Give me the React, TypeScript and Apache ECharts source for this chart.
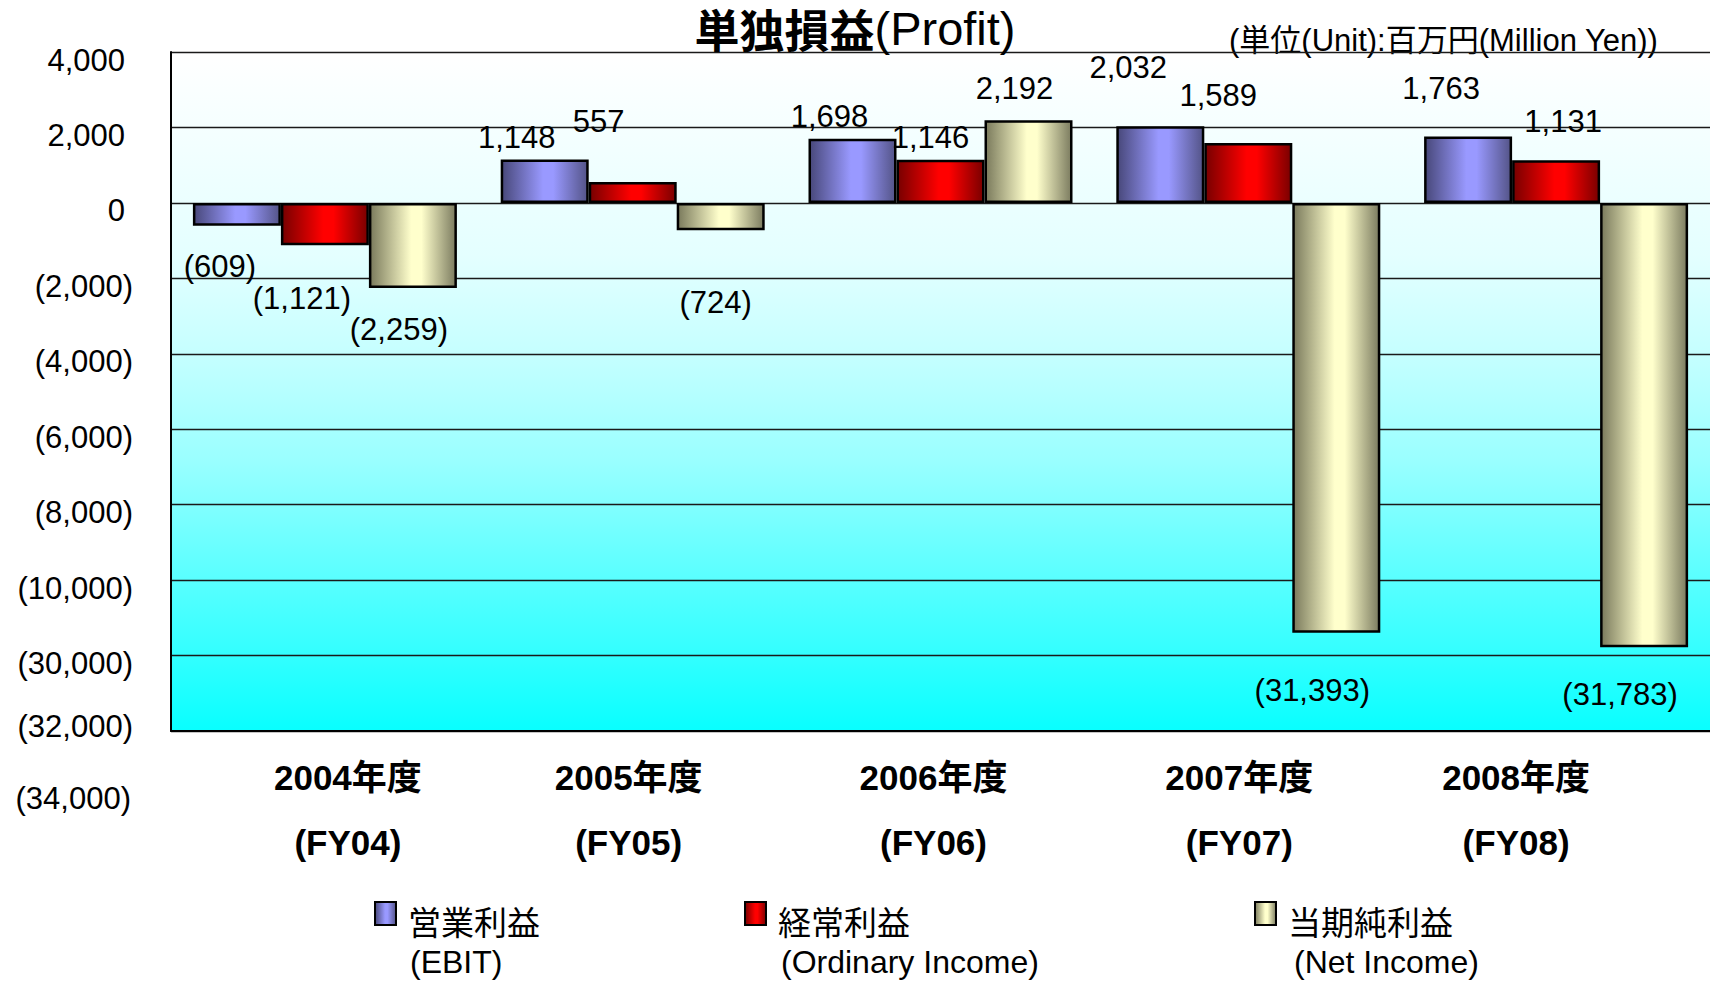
import React, { useEffect, useRef } from 'react';
import * as echarts from 'echarts';

// ---------- data ----------
const CATEGORIES = ['2004年度', '2005年度', '2006年度', '2007年度', '2008年度'];
const FY_LABELS = ['(FY04)', '(FY05)', '(FY06)', '(FY07)', '(FY08)'];
const SERIES_NAMES = ['営業利益', '経常利益', '当期純利益'];
const SERIES_SUBNAMES = ['(EBIT)', '(Ordinary Income)', '(Net Income)'];
const EBIT = [-609, 1148, 1698, 2032, 1763];
const ORDINARY = [-1121, 557, 1146, 1589, 1131];
const NET_INCOME = [-2259, -724, 2192, -31393, -31783];

// broken axis: values below BREAK_AT are drawn shifted up by BREAK_SHIFT
const BREAK_AT = -10000;
const BREAK_SHIFT = 20000;
const Y_TICK_POSITIONS = [4000, 2000, 0, -2000, -4000, -6000, -8000, -10000, -12000, -14000];
const Y_TICK_LABELS = ['4,000', '2,000', '0', '(2,000)', '(4,000)', '(6,000)', '(8,000)', '(10,000)', '(30,000)', '(32,000)'];
const Y_EXTRA_LABEL = '(34,000)';

// ---------- layout / style ----------
const LATIN = "'Liberation Sans', Arial, 'Noto Sans CJK JP', sans-serif";
const CJK = "'Noto Sans CJK JP', 'Liberation Sans', sans-serif";
const LABEL_OFFSETS = [
  [[-17, 41], [-28, -22], [-23, -22], [-32, -59], [-27, -48]],
  [[-23, 53], [-34, -60], [-10, -22], [-30, -47], [7, -39]],
  [[-14, 41], [-5, 72], [-14, -32], [-24, 58], [-24, 47]],
];
const X_LABEL_SHIFT = [23, -4, -7, -9, -40];
const LEGEND_X = [369, 739, 1249];
const LEGEND_SUB_X = [410, 781, 1294];
// square icon at the top of a taller box so that it lines up with the first text line
const LEGEND_ICON = 'path://M0,0H21V23H0Z M21,37';

const toDisplay = (v: number) => (v >= BREAK_AT ? v : v + BREAK_SHIFT);
const fmt = (v: number) =>
  v < 0 ? `(${Math.abs(v).toLocaleString('en-US')})` : v.toLocaleString('en-US');

const grad = (edgeL: string, mid: string, edgeR: string) =>
  new echarts.graphic.LinearGradient(0, 0, 1, 0, [
    { offset: 0, color: edgeL },
    { offset: 0.48, color: mid },
    { offset: 0.6, color: mid },
    { offset: 1, color: edgeR },
  ]);

export default function App() {
  const ref = useRef<HTMLDivElement>(null);
  useEffect(() => {
    if (!ref.current) return;
    const chart = echarts.init(ref.current, undefined, { renderer: 'svg' });
    const seriesValues = [EBIT, ORDINARY, NET_INCOME];
    const colors = [
      grad('#48487a', '#9999ff', '#545488'),
      grad('#780000', '#ff0000', '#7a0000'),
      grad('#7a7a5c', '#ffffcc', '#7c7c60'),
    ];
    const series = seriesValues.map((vals, s) => ({
      name: SERIES_NAMES[s],
      type: 'bar',
      barWidth: 88,
      barGap: '0%',
      itemStyle: { color: colors[s], borderColor: '#000', borderWidth: 2.5 },
      label: {
        show: true,
        distance: 0,
        align: 'center',
        verticalAlign: 'middle',
        fontSize: 31,
        color: '#000',
        fontFamily: LATIN,
        formatter: (p: any) => fmt(vals[p.dataIndex]),
      },
      data: vals.map((v, i) => ({
        value: toDisplay(v),
        label: { position: v >= 0 ? 'top' : 'bottom', offset: LABEL_OFFSETS[s][i] },
      })),
    }));

    const option: any = {
      animation: false,
      backgroundColor: '#ffffff',
      title: {
        text: '{a|単独損益}{b|(Profit)}',
        left: 'center',
        top: 5,
        padding: 0,
        textStyle: {
          rich: {
            a: { fontSize: 45, fontWeight: 'bold', fontFamily: CJK, color: '#000' },
            b: { fontSize: 47, fontWeight: 'normal', fontFamily: LATIN, color: '#000' },
          },
        },
      },
      grid: {
        left: 171,
        top: 52,
        height: 679,
        width: 1545,
        show: true,
        borderWidth: 0,
        backgroundColor: new echarts.graphic.LinearGradient(0, 0, 0, 1, [
          { offset: 0, color: '#ffffff' },
          { offset: 0.3, color: '#e4ffff' },
          { offset: 0.45, color: '#c4ffff' },
          { offset: 0.6, color: '#9affff' },
          { offset: 0.75, color: '#62ffff' },
          { offset: 0.9, color: '#2effff' },
          { offset: 1, color: '#08ffff' },
        ]),
      },
      xAxis: {
        type: 'category',
        data: CATEGORIES.map((c, i) => ({
          value: c,
          textStyle: {
            padding: X_LABEL_SHIFT[i] > 0 ? [0, 0, 0, 2 * X_LABEL_SHIFT[i]] : [0, -2 * X_LABEL_SHIFT[i], 0, 0],
          },
        })),
        axisLine: { show: true, onZero: false, lineStyle: { color: '#000', width: 2 } },
        axisTick: { show: false },
        axisLabel: {
          margin: 14,
          interval: 0,
          formatter: (v: string, i: number) => `{y|${v}}\n{f|${FY_LABELS[i]}}`,
          rich: {
            y: { fontSize: 35, fontWeight: 'bold', fontFamily: LATIN, color: '#000', lineHeight: 65 },
            f: { fontSize: 35, fontWeight: 'bold', fontFamily: LATIN, color: '#000', lineHeight: 65 },
          },
        },
      },
      yAxis: {
        type: 'value',
        min: -14000,
        max: 4000,
        interval: 2000,
        axisLine: { show: true, lineStyle: { color: '#000', width: 2 } },
        axisTick: { show: false },
        splitLine: { show: true, lineStyle: { color: '#1a1a1a', width: 1.3 } },
        axisLabel: {
          margin: 38,
          padding: [16, 0, 0, 0],
          formatter: (v: number) => {
            const idx = Y_TICK_POSITIONS.indexOf(v);
            if (idx < 0) return '';
            const txt = Y_TICK_LABELS[idx];
            if (idx === Y_TICK_POSITIONS.length - 1) return `{last|${txt}}`;
            return txt.startsWith('(') ? `{n|${txt}}` : `{p|${txt}}`;
          },
          rich: {
            p: { fontSize: 31, fontFamily: LATIN, color: '#000', padding: [0, 8, 0, 0] },
            n: { fontSize: 31, fontFamily: LATIN, color: '#000' },
            last: { fontSize: 31, fontFamily: LATIN, color: '#000', padding: [0, 0, 26, 0] },
          },
        },
      },
      legend: SERIES_NAMES.map((n, i) => ({
        data: [n],
        left: LEGEND_X[i],
        top: 896,
        icon: LEGEND_ICON,
        itemWidth: 21,
        itemHeight: 37,
        selectedMode: false,
        textStyle: { fontSize: 33, color: '#000', fontFamily: CJK, padding: [0, 0, 0, 7] },
      })),
      graphic: [
        {
          type: 'text',
          left: 1229,
          top: 25,
          style: {
            text: '(単位(Unit):百万円(Million Yen))',
            fontSize: 31,
            fontFamily: LATIN,
            fill: '#000',
          },
        },
        {
          type: 'text',
          right: 1710 - 131,
          top: 783,
          style: { text: Y_EXTRA_LABEL, fontSize: 31, fontFamily: LATIN, fill: '#000' },
        },
        ...SERIES_SUBNAMES.map((t, i) => ({
          type: 'text',
          left: LEGEND_SUB_X[i],
          top: 946,
          style: { text: t, fontSize: 32, fontFamily: LATIN, fill: '#000' },
        })),
      ],
      series,
    };
    chart.setOption(option);
    return () => chart.dispose();
  }, []);
  return (
    <div
      ref={ref}
      style={{ position: 'fixed', left: 0, top: 0, width: 1710, height: 984, background: '#fff' }}
    />
  );
}
